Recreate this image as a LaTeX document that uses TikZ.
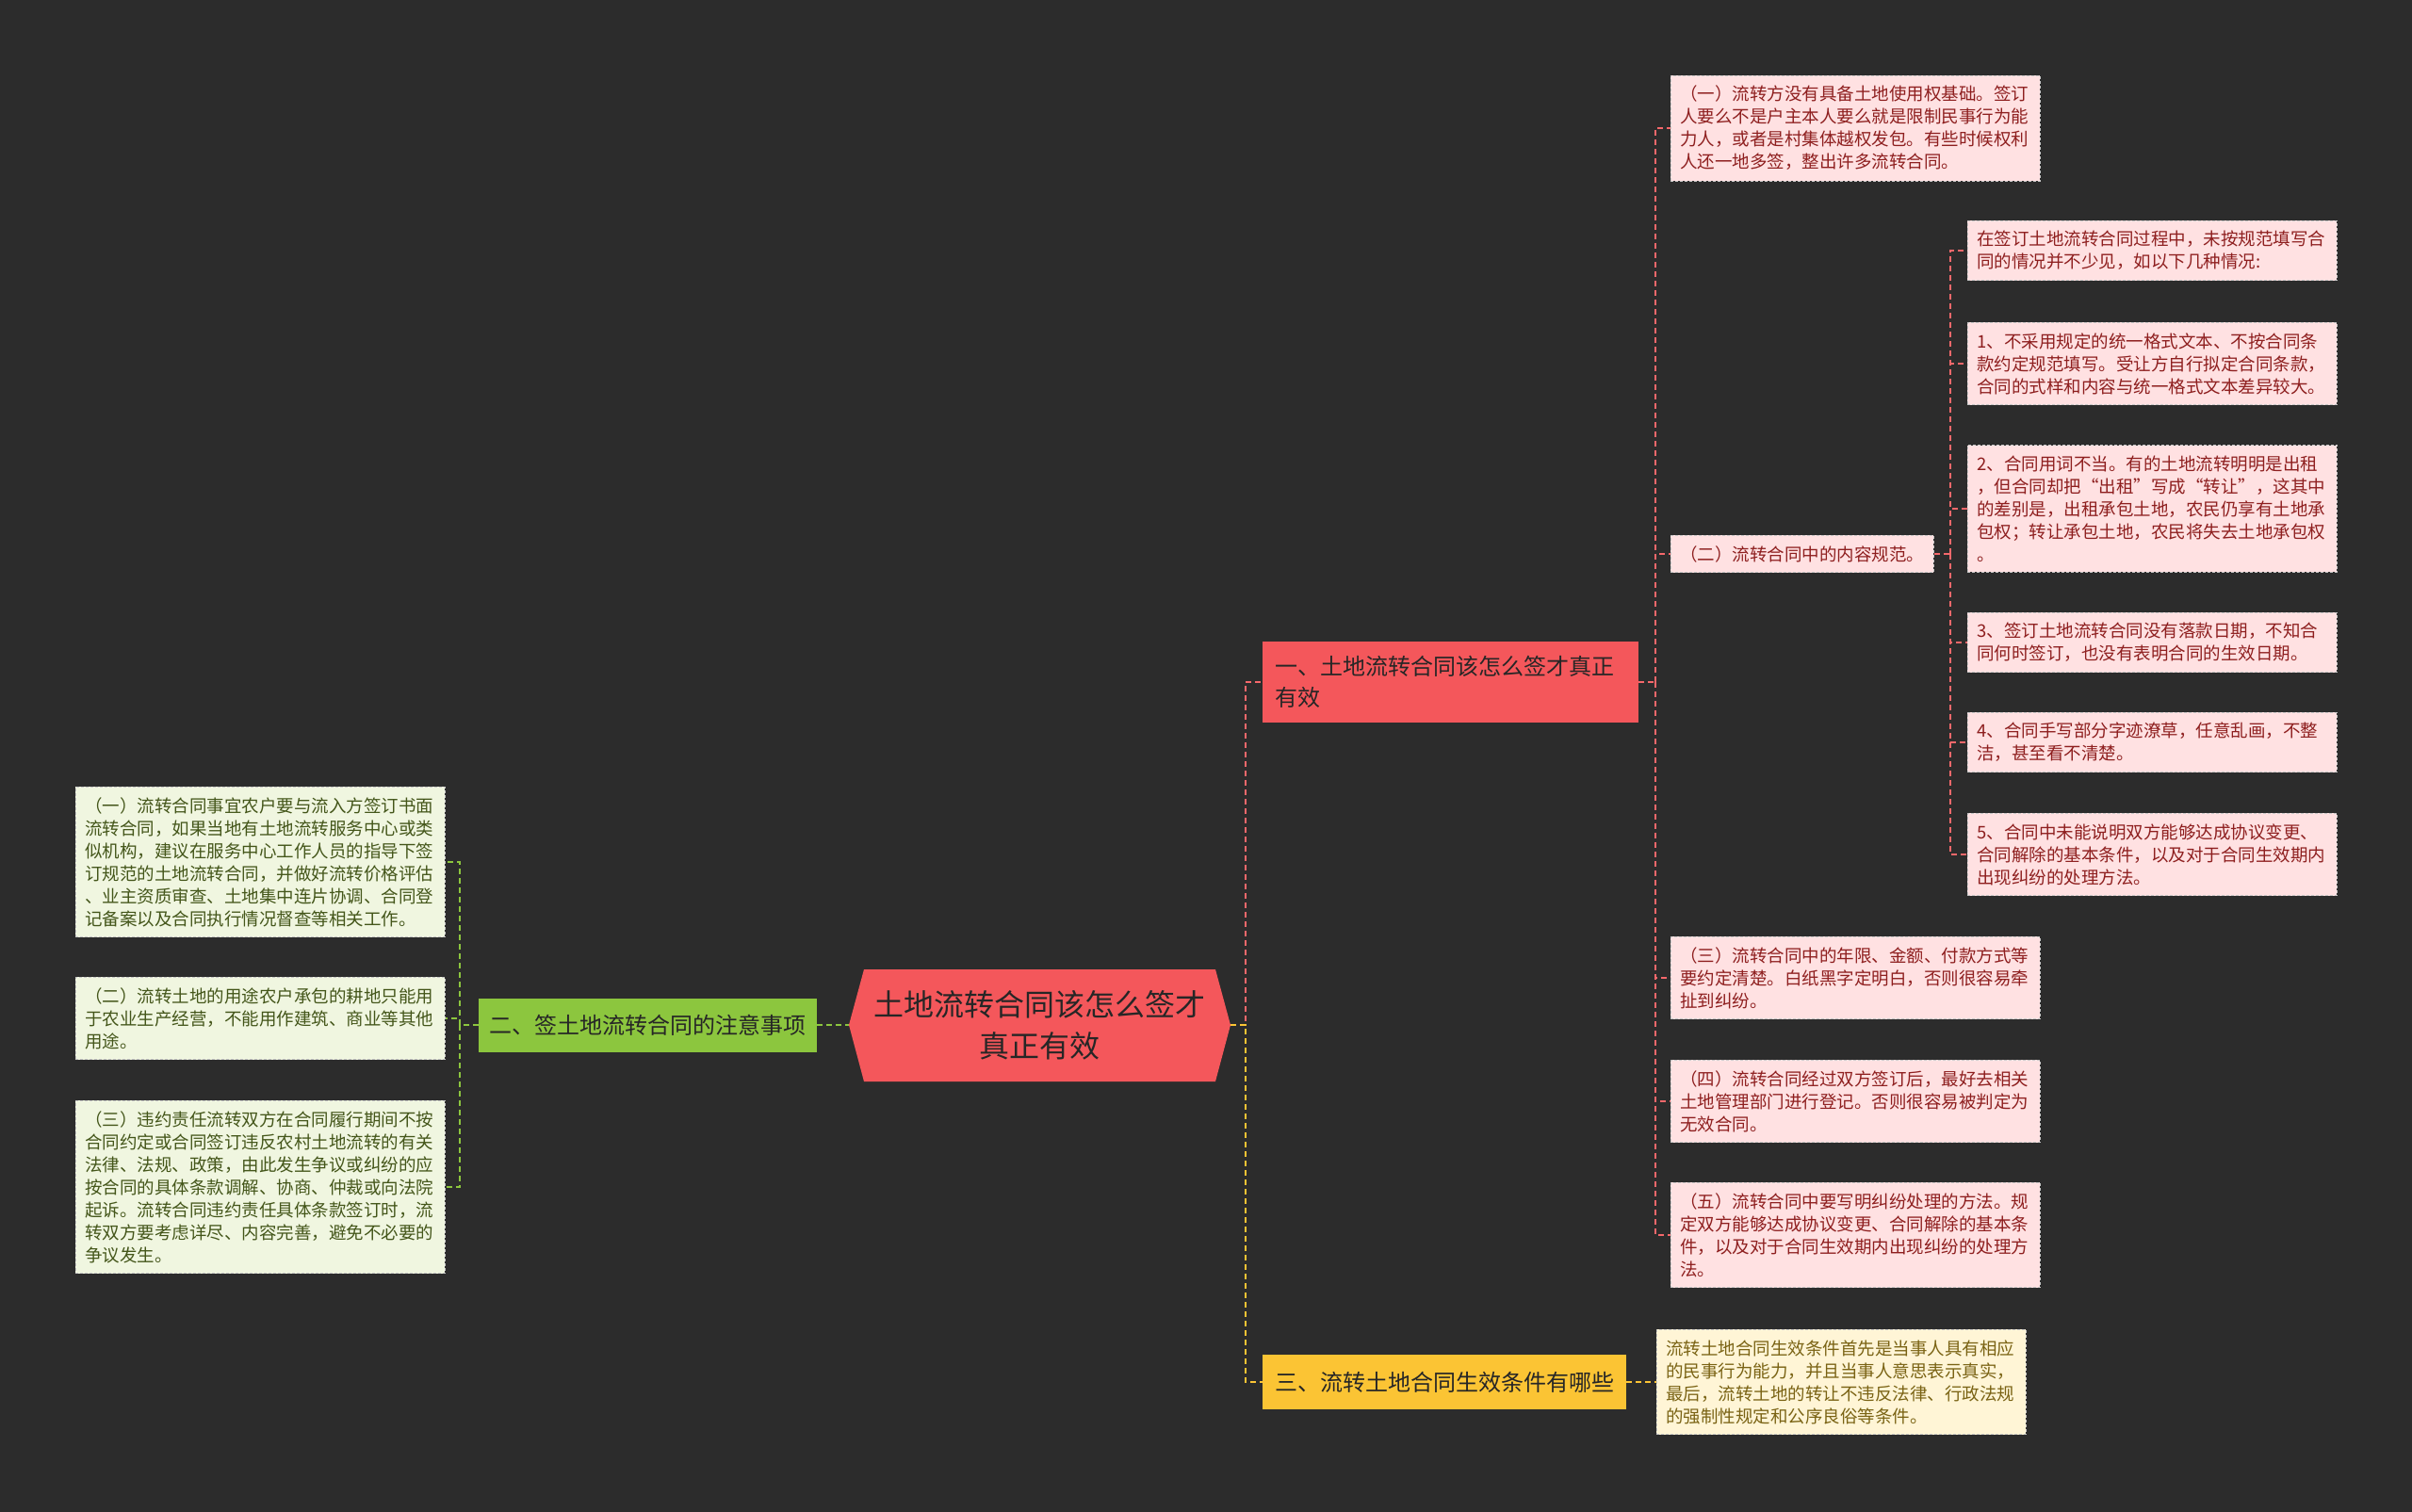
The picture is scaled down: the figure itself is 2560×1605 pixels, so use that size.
\documentclass[tikz,border=0pt]{standalone}
\usepackage{fontspec}
\setmainfont{Noto Sans CJK SC}
\definecolor{bgc}{HTML}{2C2C2C}
\definecolor{redc}{HTML}{F4575B}
\definecolor{grnc}{HTML}{8CC63E}
\definecolor{ylwc}{HTML}{FBC434}
\definecolor{pinkbg}{HTML}{FFE1E2}
\definecolor{pinktx}{HTML}{8E1F1F}
\definecolor{grnbg}{HTML}{F0F6E0}
\definecolor{grntx}{HTML}{44561A}
\definecolor{ylwbg}{HTML}{FFF5D6}
\definecolor{ylwtx}{HTML}{7A6314}
\definecolor{leafln}{HTML}{C8C8C8}

\begin{document}
\begin{tikzpicture}[x=1pt,y=-1pt]
\tikzset{
  leaf/.style={draw=leafln,dash pattern=on 3pt off 2pt,line width=0.8pt,align=left,
    font=\fontsize{18.5}{24}\selectfont,text width=372pt,inner xsep=10pt,inner ysep=11pt,anchor=west},
  pleaf/.style={leaf,fill=pinkbg,text=pinktx},
  gleaf/.style={leaf,fill=grnbg,text=grntx},
  yleaf/.style={leaf,fill=ylwbg,text=ylwtx},
  branch/.style={font=\fontsize{24}{33}\selectfont,align=left,inner xsep=13pt,anchor=west},
  rline/.style={draw=redc!90!white,dash pattern=on 6pt off 4pt,line width=1.5pt},
  gline/.style={draw=grnc,dash pattern=on 6pt off 4pt,line width=1.5pt},
  yline/.style={draw=ylwc,dash pattern=on 6pt off 4pt,line width=1.5pt}
}

\fill[bgc] (0,0) rectangle (2560,1605);
\useasboundingbox (0,0) rectangle (2560,1605);

\fill[redc] (901,1088) -- (917,1029) -- (1290,1029) -- (1306,1088) -- (1290,1148) -- (917,1148) -- cycle;
\path (1103.5,1088) node[minimum width=405pt,minimum height=119pt,align=center,
  font=\fontsize{32}{44}\selectfont,text=black!85] (root) {土地流转合同该怎么签才\\真正有效};

\path (1340,724) node[branch,fill=redc,text=black!85,text width=373pt,minimum height=86pt] (b1)
  {一、土地流转合同该怎么签才真正\\有效};
\path (508,1088) node[branch,fill=grnc,text=black!85,inner xsep=11.5pt,minimum height=57pt] (b2)
  {二、签土地流转合同的注意事项};
\path (1340,1467) node[branch,fill=ylwc,text=black!85,minimum height=58pt] (b3)
  {三、流转土地合同生效条件有哪些};

\path (1773,136) node[pleaf] (l1) {（一）流转方没有具备土地使用权基础。签订\\
人要么不是户主本人要么就是限制民事行为能\\
力人，或者是村集体越权发包。有些时候权利\\
人还一地多签，整出许多流转合同。};
\path (1773,588) node[pleaf,text width=259pt] (l2) {（二）流转合同中的内容规范。};
\path (1773,1038) node[pleaf] (l3) {（三）流转合同中的年限、金额、付款方式等\\
要约定清楚。白纸黑字定明白，否则很容易牵\\
扯到纠纷。};
\path (1773,1169) node[pleaf] (l4) {（四）流转合同经过双方签订后，最好去相关\\
土地管理部门进行登记。否则很容易被判定为\\
无效合同。};
\path (1773,1311) node[pleaf] (l5) {（五）流转合同中要写明纠纷处理的方法。规\\
定双方能够达成协议变更、合同解除的基本条\\
件，以及对于合同生效期内出现纠纷的处理方\\
法。};

\path (2088,266) node[pleaf] (s0) {在签订土地流转合同过程中，未按规范填写合\\
同的情况并不少见，如以下几种情况:};
\path (2088,386) node[pleaf] (s1) {1、不采用规定的统一格式文本、不按合同条\\
款约定规范填写。受让方自行拟定合同条款，\\
合同的式样和内容与统一格式文本差异较大。};
\path (2088,540) node[pleaf] (s2) {2、合同用词不当。有的土地流转明明是出租\\
，但合同却把“出租”写成“转让”，这其中\\
的差别是，出租承包土地，农民仍享有土地承\\
包权；转让承包土地，农民将失去土地承包权\\
。};
\path (2088,682) node[pleaf] (s3) {3、签订土地流转合同没有落款日期，不知合\\
同何时签订，也没有表明合同的生效日期。};
\path (2088,788) node[pleaf] (s4) {4、合同手写部分字迹潦草，任意乱画，不整\\
洁，甚至看不清楚。};
\path (2088,907) node[pleaf] (s5) {5、合同中未能说明双方能够达成协议变更、\\
合同解除的基本条件，以及对于合同生效期内\\
出现纠纷的处理方法。};

\path (1758,1467) node[yleaf] (y1) {流转土地合同生效条件首先是当事人具有相应\\
的民事行为能力，并且当事人意思表示真实，\\
最后，流转土地的转让不违反法律、行政法规\\
的强制性规定和公序良俗等条件。};

\path (80,915) node[gleaf] (g1) {（一）流转合同事宜农户要与流入方签订书面\\
流转合同，如果当地有土地流转服务中心或类\\
似机构，建议在服务中心工作人员的指导下签\\
订规范的土地流转合同，并做好流转价格评估\\
、业主资质审查、土地集中连片协调、合同登\\
记备案以及合同执行情况督查等相关工作。};
\path (80,1081) node[gleaf] (g2) {（二）流转土地的用途农户承包的耕地只能用\\
于农业生产经营，不能用作建筑、商业等其他\\
用途。};
\path (80,1260) node[gleaf] (g3) {（三）违约责任流转双方在合同履行期间不按\\
合同约定或合同签订违反农村土地流转的有关\\
法律、法规、政策，由此发生争议或纠纷的应\\
按合同的具体条款调解、协商、仲裁或向法院\\
起诉。流转合同违约责任具体条款签订时，流\\
转双方要考虑详尽、内容完善，避免不必要的\\
争议发生。};

\coordinate (j0) at (1322,1088);
\coordinate (k1) at (1757,724);
\coordinate (k2) at (2070,588);
\coordinate (k3) at (488,1088);

\draw[rline] (root.east) -- (j0) |- (b1);
\draw[yline] (root.east) -- (j0) |- (b3);
\draw[gline] (b2.east) -- (root.west);

\draw[rline] (b1.east) -- (k1);
\foreach \n in {l1,l2,l3,l4,l5} \draw[rline] (k1) |- (\n);
\draw[rline] (l2.east) -- (k2);
\foreach \n in {s0,s1,s2,s3,s4,s5} \draw[rline] (k2) |- (\n);
\draw[yline] (b3.east) -- (y1.west);
\draw[gline] (b2.west) -- (k3);
\foreach \n in {g1,g2,g3} \draw[gline] (k3) |- (\n);
\end{tikzpicture}
\end{document}
